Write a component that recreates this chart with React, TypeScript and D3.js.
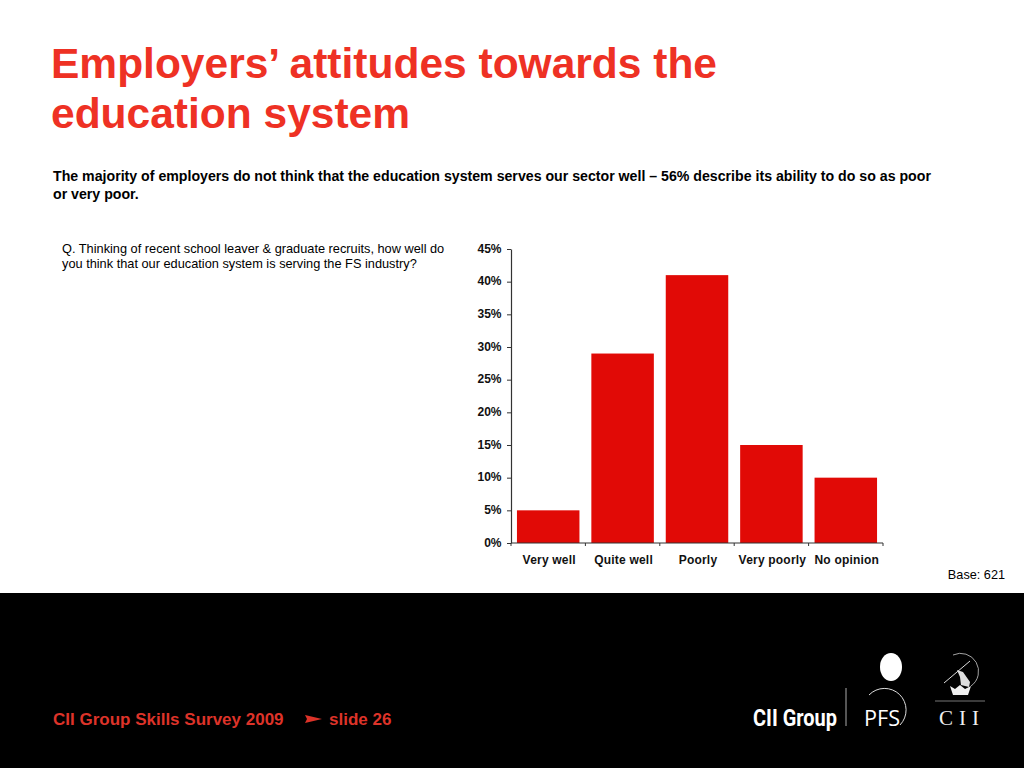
import * as d3 from "d3";
import { useEffect, useRef } from "react";

const categories = ["Very well", "Quite well", "Poorly", "Very poorly", "No opinion"];
const values = [5, 29, 41, 15, 10];
const yTicks = [0, 5, 10, 15, 20, 25, 30, 35, 40, 45];

const titleLines = ["Employers’ attitudes towards the", "education system"];
const summaryLines = [
  "The majority of employers do not think that the education system serves our sector well – 56% describe its ability to do so as poor",
  "or very poor.",
];
const questionLines = [
  "Q. Thinking of recent school leaver & graduate recruits, how well do",
  "you think that our education system is serving the FS industry?",
];

const FONT = "'Liberation Sans', Arial, sans-serif";
const RED = "#ee3124";
const FOOT_RED = "#dd3329";
const BAR = "#e10a06";

export default function App(): JSX.Element {
  const svgRef = useRef<SVGSVGElement>(null);

  useEffect(() => {
    if (!svgRef.current) return;
    const svg = d3.select(svgRef.current);
    svg.selectAll("*").remove();
    svg.style("font-family", FONT);

    // Slide text
    svg
      .selectAll("text.title")
      .data(titleLines)
      .join("text")
      .attr("class", "title")
      .attr("x", 51)
      .attr("y", (_, i) => 78 + i * 50)
      .attr("fill", RED)
      .attr("font-size", 42.5)
      .attr("font-weight", "bold")
      .text((d) => d);

    svg
      .selectAll("text.summary")
      .data(summaryLines)
      .join("text")
      .attr("class", "summary")
      .attr("x", 53)
      .attr("y", (_, i) => 181 + i * 18)
      .attr("fill", "#000")
      .attr("font-size", 14.17)
      .attr("font-weight", "bold")
      .text((d) => d);

    svg
      .selectAll("text.question")
      .data(questionLines)
      .join("text")
      .attr("class", "question")
      .attr("x", 62)
      .attr("y", (_, i) => 253 + i * 15)
      .attr("fill", "#000")
      .attr("font-size", 12.77)
      .text((d) => d);

    // Chart
    const x = d3.scaleBand().domain(categories).range([511, 883]).paddingInner(0.16).paddingOuter(0.08);
    const y = d3.scaleLinear().domain([0, 45]).range([543, 249]);

    svg
      .selectAll("rect.bar")
      .data(values)
      .join("rect")
      .attr("class", "bar")
      .attr("x", (_, i) => x(categories[i]) as number)
      .attr("y", (d) => y(d))
      .attr("width", x.bandwidth())
      .attr("height", (d) => y(0) - y(d))
      .attr("fill", BAR);

    const yAxis = svg
      .append("g")
      .attr("transform", "translate(511,0)")
      .call(
        d3
          .axisLeft(y)
          .tickValues(yTicks)
          .tickSize(4)
          .tickSizeOuter(0)
          .tickFormat((d) => `${d}%`)
      );
    yAxis.select(".domain").attr("stroke", "#333").attr("stroke-width", 1.2);
    yAxis.selectAll("line").attr("stroke", "#333");
    yAxis
      .selectAll("text")
      .attr("x", -9.5)
      .attr("dy", "0.25em")
      .attr("font-family", FONT)
      .attr("font-size", 12)
      .attr("font-weight", "bold")
      .attr("fill", "#111");

    const xEdges = d3.scaleLinear().domain([0, categories.length]).range([511, 883]);
    const xAxis = svg.append("g").attr("transform", `translate(0,${y(0)})`);
    xAxis
      .append("line")
      .attr("x1", xEdges(0))
      .attr("x2", xEdges(categories.length))
      .attr("stroke", "#333")
      .attr("stroke-width", 1.2);
    xAxis
      .selectAll("line.tick")
      .data(d3.range(categories.length + 1))
      .join("line")
      .attr("class", "tick")
      .attr("x1", (d) => xEdges(d))
      .attr("x2", (d) => xEdges(d))
      .attr("y2", 3)
      .attr("stroke", "#333");
    xAxis
      .selectAll("text")
      .data(categories)
      .join("text")
      .attr("x", (d) => (x(d) as number) + x.bandwidth() / 2 + 1)
      .attr("y", 21)
      .attr("text-anchor", "middle")
      .attr("font-size", 12)
      .attr("letter-spacing", 0.2)
      .attr("font-weight", "bold")
      .attr("fill", "#111")
      .text((d) => d);

    svg
      .append("text")
      .attr("x", 1005)
      .attr("y", 579)
      .attr("text-anchor", "end")
      .attr("font-size", 12.7)
      .attr("fill", "#000")
      .text("Base: 621");

    // Footer band
    svg.append("rect").attr("y", 593).attr("width", 1024).attr("height", 175).attr("fill", "#000");
    svg
      .append("text")
      .attr("x", 53)
      .attr("y", 725)
      .attr("fill", FOOT_RED)
      .attr("font-size", 17)
      .attr("font-weight", "bold")
      .text("CII Group Skills Survey 2009");
    svg.append("path").attr("d", "M305,715 L322,719 L305,723 L307,719 Z").attr("fill", FOOT_RED);
    svg
      .append("text")
      .attr("x", 329)
      .attr("y", 725)
      .attr("fill", FOOT_RED)
      .attr("font-size", 17)
      .attr("font-weight", "bold")
      .text("slide 26");

    // Logos
    const logos = svg.append("g");
    logos
      .append("text")
      .attr("x", 753)
      .attr("y", 726)
      .attr("fill", "#fff")
      .attr("font-family", "'Roboto', sans-serif")
      .attr("font-size", 24)
      .attr("font-weight", "bold")
      .attr("textLength", 84)
      .attr("lengthAdjust", "spacingAndGlyphs")
      .text("CII Group");
    logos.append("line").attr("x1", 846).attr("x2", 846).attr("y1", 688).attr("y2", 726).attr("stroke", "#aaa");
    logos.append("ellipse").attr("cx", 891).attr("cy", 667).attr("rx", 11).attr("ry", 14).attr("fill", "#fff");
    logos
      .append("path")
      .attr("d", "M869,695 A21,21 0 1 1 900,725")
      .attr("fill", "none")
      .attr("stroke", "#ddd")
      .attr("stroke-width", 1);
    logos
      .append("text")
      .attr("x", 864)
      .attr("y", 726)
      .attr("fill", "#fff")
      .attr("font-family", "'Open Sans', sans-serif")
      .attr("font-size", 22)
      .attr("textLength", 36)
      .attr("lengthAdjust", "spacingAndGlyphs")
      .text("PFS");
    logos
      .append("path")
      .attr("d", "M953,655 A18,18 0 0 1 971,686")
      .attr("fill", "none")
      .attr("stroke", "#ccc")
      .attr("stroke-width", 0.8);
    logos.append("line").attr("x1", 944).attr("y1", 683).attr("x2", 970).attr("y2", 661).attr("stroke", "#ddd");
    logos.append("path").attr("d", "M957,670 L963,672 L970,682 L969,687 L961,685 L960,677 Z").attr("fill", "#ddd");
    logos.append("path").attr("d", "M950,686 L955,689 L960,685 L965,689 L971,686 L968,695 L953,695 Z").attr("fill", "#eee");
    logos.append("line").attr("x1", 935).attr("x2", 985).attr("y1", 701).attr("y2", 701).attr("stroke", "#777");
    logos
      .append("text")
      .attr("x", 939)
      .attr("y", 725)
      .attr("fill", "#eee")
      .attr("font-family", "'Liberation Serif', serif")
      .attr("font-size", 21)
      .attr("letter-spacing", 6)
      .text("CII");
  }, []);

  return <svg ref={svgRef} width={1024} height={768} style={{ position: "absolute", left: 0, top: 0, background: "#fff" }} />;
}
